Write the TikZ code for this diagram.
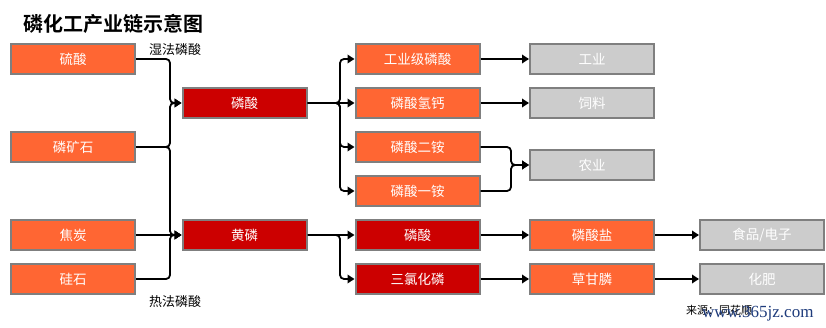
\documentclass[tikz,border=0pt]{standalone}
\usepackage{fontspec}
\setmainfont{Noto Sans CJK SC}[BoldFont={Noto Sans CJK SC Bold}]
\newfontfamily\wmfont{Liberation Serif}
\usetikzlibrary{arrows.meta}
\definecolor{orng}{HTML}{FF6633}
\definecolor{rd}{HTML}{CC0000}
\definecolor{gy}{HTML}{CCCCCC}
\definecolor{bd}{HTML}{7F7F7F}
\definecolor{wm}{HTML}{1F3C7C}
\begin{document}
\begin{tikzpicture}[x=1pt,y=-1pt,
  box/.style={draw=bd,line width=2pt,minimum width=124pt,minimum height=30pt,inner sep=0pt,text=white,font=\fontsize{13.5}{13.5}\selectfont},
  obox/.style={box,fill=orng},
  rbox/.style={box,fill=rd},
  gbox/.style={box,fill=gy},
  conn/.style={draw=black,line width=1.8pt,rounded corners=4pt,-{Triangle[length=7pt,width=8.5pt]}},
  lab/.style={font=\fontsize{13}{13}\selectfont,inner sep=0pt}]
\useasboundingbox (0,0) rectangle (826,328);
\fill[white] (0,0) rectangle (826,328);
\node[anchor=west,inner sep=0pt,font=\bfseries\fontsize{20}{20}\selectfont] (title) at (23,24) {磷化工产业链示意图};
% left column
\node[obox] (s1) at (73,59) {硫酸};
\node[obox] (s2) at (73,147) {磷矿石};
\node[obox] (s3) at (73,235) {焦炭};
\node[obox] (s4) at (73,279) {硅石};
% second column
\node[rbox] (p1) at (244.5,103) {磷酸};
\node[rbox] (p2) at (244.5,235) {黄磷};
% third column
\node[obox] (m1) at (417.5,59) {工业级磷酸};
\node[obox] (m2) at (417.5,103) {磷酸氢钙};
\node[obox] (m3) at (417.5,147) {磷酸二铵};
\node[obox] (m4) at (417.5,191) {磷酸一铵};
\node[rbox] (m5) at (417.5,235) {磷酸};
\node[rbox] (m6) at (417.5,279) {三氯化磷};
% fourth column
\node[gbox] (r1) at (592,59) {工业};
\node[gbox] (r2) at (592,103) {饲料};
\node[gbox] (r3) at (592,165) {农业};
\node[obox] (r4) at (592,235) {磷酸盐};
\node[obox] (r5) at (592,279) {草甘膦};
% fifth column
\node[gbox] (f1) at (762,235) {食品/电子};
\node[gbox] (f2) at (762,279) {化肥};
% labels
\node[lab] (l1) at (175,50) {湿法磷酸};
\node[lab] (l2) at (175,302) {热法磷酸};
\node[anchor=west,inner sep=0pt,font=\fontsize{11}{11}\selectfont] (src) at (686,310) {来源：同花顺};
\node[anchor=west,inner sep=0pt,text=wm,font=\wmfont\fontsize{17}{17}\selectfont] (wmk) at (702,314) {www.365jz.com};
% junctions
\coordinate (j1) at (170,103);
\coordinate (j2) at (170,235);
\coordinate (k1) at (340,103);
\coordinate (k2) at (340,235);
\coordinate (q1) at (511,165);
% connectors
\draw[conn] (s1.east) -| (j1) -- (p1.west);
\draw[conn] (s2.east) -| (j1) -- (p1.west);
\draw[conn] (s2.east) -| (j2) -- (p2.west);
\draw[conn] (s3.east) -- (p2.west);
\draw[conn] (s4.east) -| (j2) -- (p2.west);
\draw[conn] (p1.east) -- (k1) |- (m1.west);
\draw[conn] (p1.east) -- (m2.west);
\draw[conn] (p1.east) -- (k1) |- (m3.west);
\draw[conn] (p1.east) -- (k1) |- (m4.west);
\draw[conn] (p2.east) -- (m5.west);
\draw[conn] (p2.east) -- (k2) |- (m6.west);
\draw[conn] (m1.east) -- (r1.west);
\draw[conn] (m2.east) -- (r2.west);
\draw[conn] (m3.east) -| (q1) -- (r3.west);
\draw[conn] (m4.east) -| (q1) -- (r3.west);
\draw[conn] (m5.east) -- (r4.west);
\draw[conn] (m6.east) -- (r5.west);
\draw[conn] (r4.east) -- (f1.west);
\draw[conn] (r5.east) -- (f2.west);
\end{tikzpicture}
\end{document}
